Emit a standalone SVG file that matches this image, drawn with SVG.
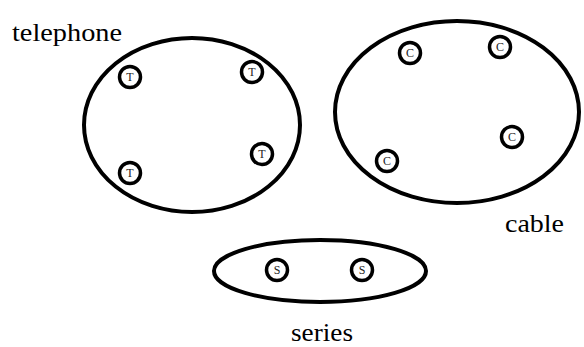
<svg xmlns="http://www.w3.org/2000/svg" width="584" height="347" viewBox="0 0 584 347">
<style>
.set{fill:none;stroke:#000;stroke-width:4}
.el{fill:#fff;stroke:#000;stroke-width:3.5}
.sf{font-family:"Liberation Serif","Times New Roman",Times,serif}
</style>
<rect width="584" height="347" fill="#fff"/>
<g class="sf" font-size="26" fill="#000">
<g id="telephone">
<ellipse class="set" cx="192" cy="125" rx="108" ry="87"/>
<text x="12" y="41" textLength="110" lengthAdjust="spacingAndGlyphs">telephone</text>
</g>
<g id="cable">
<ellipse class="set" cx="457" cy="112" rx="122" ry="91"/>
<text x="505" y="232" textLength="59" lengthAdjust="spacingAndGlyphs">cable</text>
</g>
<g id="series">
<ellipse class="set" cx="320" cy="271" rx="106" ry="31"/>
<text x="291" y="341" textLength="62" lengthAdjust="spacingAndGlyphs">series</text>
</g>
</g>
<g class="sf" font-size="12" text-anchor="middle" fill="#222">
<g id="t1"><circle class="el" cx="130" cy="77" r="10.5"/><text x="130" y="81">T</text></g>
<g id="t2"><circle class="el" cx="252" cy="72" r="10.5"/><text x="252" y="76">T</text></g>
<g id="t3"><circle class="el" cx="262" cy="154" r="10.5"/><text x="262" y="158">T</text></g>
<g id="t4"><circle class="el" cx="130" cy="173" r="10.5"/><text x="130" y="177">T</text></g>
<g id="c1"><circle class="el" cx="410" cy="53" r="10.5"/><text x="410" y="57">C</text></g>
<g id="c2"><circle class="el" cx="500" cy="47" r="10.5"/><text x="500" y="51">C</text></g>
<g id="c3"><circle class="el" cx="512" cy="137" r="10.5"/><text x="512" y="141">C</text></g>
<g id="c4"><circle class="el" cx="387" cy="161" r="10.5"/><text x="387" y="165">C</text></g>
<g id="s1"><circle class="el" cx="277" cy="270" r="10.5"/><text x="277" y="274">S</text></g>
<g id="s2"><circle class="el" cx="362" cy="270" r="10.5"/><text x="362" y="274">S</text></g>
</g>
<g id="connectors"/>
</svg>
